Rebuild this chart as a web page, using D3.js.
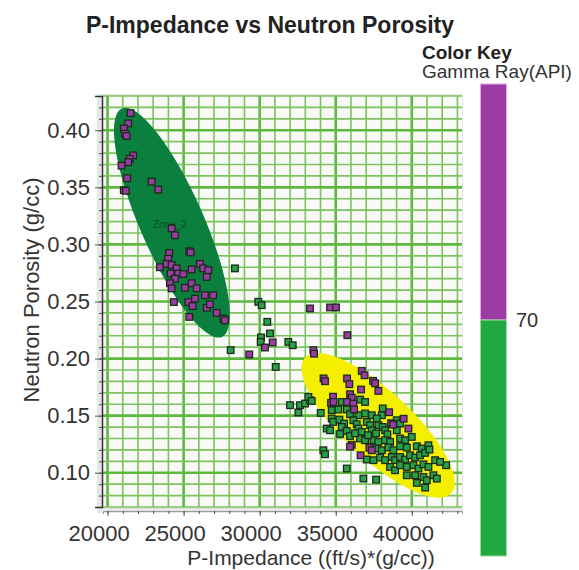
<!DOCTYPE html>
<html>
<head>
<meta charset="utf-8">
<script src="https://cdn.jsdelivr.net/npm/d3@7"></script>
<style>
  body { margin: 0; background: #fff; }
  text { font-family: "Liberation Sans", Arial, sans-serif; }
</style>
</head>
<body>
<div id="chart"></div>
<script>
// Gamma Ray above the 70 API cut (purple)  [P-Impedance, Neutron Porosity]
var highGR = [
  [21510,0.415],[21355,0.406],[21070,0.4015],[21140,0.397],[21250,0.395],[21685,0.378],
  [21465,0.375],[21355,0.372],[20920,0.369],[21290,0.358],[21070,0.3475],[21205,0.347],
  [22895,0.355],[23330,0.348],[24210,0.314],[24430,0.308],[25370,0.294],[25460,0.293],
  [24055,0.2925],[23985,0.2875],[23880,0.283],[23440,0.280],[24210,0.282],[24540,0.279],
  [24145,0.2745],[24645,0.2745],[24975,0.274],[24430,0.270],[25525,0.278],[26070,0.283],
  [26290,0.279],[26620,0.2775],[26515,0.2715],[24100,0.266],[24210,0.2615],[25085,0.262],
  [25525,0.266],[25855,0.2615],[26400,0.2555],[26945,0.2555],[24360,0.2495],[25305,0.2495],
  [25745,0.2525],[25590,0.246],[26515,0.2445],[26730,0.2475],[27170,0.240],[27605,0.235],
  [25370,0.2365],[27715,0.2335],
  [33310,0.2439],[34625,0.2448],[35020,0.2448],[35763,0.2205],[30349,0.2097],[30855,0.2141],
  [29316,0.2036],[33527,0.2074],[33573,0.2043],
  [36711,0.1892],[36895,0.1854],[34198,0.1826],[34296,0.1802],[35744,0.1826],[35895,0.1776],
  [37454,0.1805],[37586,0.1784],[36665,0.1729],[37803,0.1717],[34823,0.1666],[35941,0.1688],
  [36053,0.1657],[34691,0.1612],[34856,0.1620],[35744,0.1620],[36158,0.1606],[38507,0.153],
  [38639,0.1434],[38770,0.1421],[39461,0.1473],[39777,0.1387],[36053,0.1245],[35941,0.1228],
  [37211,0.1219],[37369,0.1197],[36632,0.1153],[36204,0.1554]
];

// Gamma Ray below the 70 API cut (green)
var lowGR = [
  [28375,0.279],[29908,0.2497],[30132,0.2468],[30500,0.2322],[30678,0.222],[30086,0.2185],
  [30066,0.2146],[31882,0.2146],[32171,0.2117],[28092,0.2074],[31053,0.1927],
  [31993,0.1592],[32540,0.1528],[32652,0.1592],[32981,0.1606],[33310,0.1635],[33198,0.1664],
  [33421,0.1629],[34013,0.1524],[34184,0.1197],[34296,0.1162],[35724,0.1037],[36816,0.0949],
  [37652,0.094],[40876,0.087],[40330,0.0911],[42257,0.1066],
  [35395,0.162],[36599,0.1641],[36928,0.162],[34737,0.1548],[35171,0.1554],[35724,0.1554],
  [35941,0.1513],[36487,0.1504],[36928,0.1519],[37369,0.1504],[38092,0.1563],[38027,0.1504],
  [37698,0.1475],[34737,0.1475],[34842,0.1445],[35237,0.1466],[35546,0.1431],[36158,0.146],
  [36382,0.1425],[37040,0.1445],[37257,0.1416],[37803,0.1416],[38092,0.1401],[39013,0.146],
  [39231,0.1431],[34408,0.1387],[34625,0.1372],[35395,0.1401],[35724,0.1366],[36487,0.1387],
  [36711,0.1358],[37369,0.1372],[37652,0.1344],[38244,0.1372],[38395,0.1337],[39013,0.1372],
  [36599,0.13],[36928,0.1285],[37474,0.1285],[37803,0.127],[38244,0.1285],[38573,0.127],
  [39231,0.13],[39560,0.1285],[40000,0.1314],[37698,0.1212],[38027,0.1197],[38461,0.1221],
  [38790,0.1197],[39231,0.1232],[39672,0.1221],[40330,0.1232],[40658,0.1212],[41092,0.1241],
  [37040,0.1116],[37474,0.111],[37915,0.1133],[38244,0.111],[38685,0.1138],[38902,0.111],
  [39231,0.1138],[39560,0.1116],[39889,0.1153],[40218,0.1133],[40547,0.1153],[40876,0.1174],
  [41158,0.1203],[38573,0.1051],[38902,0.1022],[39231,0.1066],[39672,0.1051],[40106,0.1066],
  [40435,0.1037],[40764,0.1074],[41092,0.1051],[41533,0.111],[41862,0.1095],[39672,0.0978],
  [40218,0.0978],[40764,0.0963],[40987,0.0934],[41421,0.0978],[41645,0.0949],
  [35290,0.134],[35941,0.1322],[36270,0.1346],[37125,0.1329]
];

// zones: ends of the long axis (data units) and short/long axis ratio
var zoneNames = ["Zone_2", "Zone_1"];
var zoneTips = [
  [[20940, 0.419], [27520, 0.219]],
  [[32980, 0.201], [42590, 0.082]]
];
var zoneRatio = [0.256, 0.34];
var zoneLabelAt = [22980, 0.314];

var xMajor = [20000, 25000, 30000, 35000, 40000];
var yMajor = [0.10, 0.15, 0.20, 0.25, 0.30, 0.35, 0.40];
var grCut = 70;
var grRange = [40, 100];

var width = 579, height = 570;
var zoneFill = ["#0b7f3d", "#f4ee00"];
var highColor = "#9c3ba3", lowColor = "#27a046";

var svg = d3.select("#chart").append("svg")
    .attr("width", width)
    .attr("height", height);

var x = d3.scaleLinear().domain([19700, 43300]).range([103, 462]);
var y = d3.scaleLinear().domain([0.07, 0.43]).range([507, 96]);

// title
svg.append("text")
    .attr("x", 270).attr("y", 33)
    .attr("text-anchor", "middle")
    .attr("font-size", 23).attr("font-weight", "bold")
    .attr("fill", "#222")
    .text("P-Impedance vs Neutron Porosity");

// frame + plot background
svg.append("rect")
    .attr("x", 97).attr("y", 94)
    .attr("width", 366).attr("height", 419)
    .attr("fill", "#e6e6e6");
svg.append("rect")
    .attr("x", x.range()[0]).attr("y", y.range()[1])
    .attr("width", x.range()[1] - x.range()[0])
    .attr("height", y.range()[0] - y.range()[1])
    .attr("fill", "#f9f9f7");

// grid
var grid = svg.append("g").attr("class", "grid");
var xMinor = d3.range(20000, 43001, 1000);
var yMinor = d3.range(7, 44).map(function(d) { return d / 100; });

grid.selectAll(".vx").data(xMinor).enter().append("line")
    .attr("x1", function(d) { return x(d); }).attr("x2", function(d) { return x(d); })
    .attr("y1", y.range()[1]).attr("y2", y.range()[0])
    .attr("stroke", function(d) { return d % 5000 === 0 ? "#5db83e" : "#7cc25e"; })
    .attr("stroke-width", function(d) { return d % 5000 === 0 ? 2.6 : 1.6; });

grid.selectAll(".hy").data(yMinor).enter().append("line")
    .attr("y1", function(d) { return y(d); }).attr("y2", function(d) { return y(d); })
    .attr("x1", x.range()[0]).attr("x2", x.range()[1])
    .attr("stroke", function(d) { return Math.round(d * 100) % 5 === 0 ? "#5db83e" : "#7cc25e"; })
    .attr("stroke-width", function(d) { return Math.round(d * 100) % 5 === 0 ? 2.6 : 1.6; });

// zones
var zones = svg.append("g").attr("class", "zones");
zoneTips.forEach(function(t, i) {
  var p1 = [x(t[0][0]), y(t[0][1])], p2 = [x(t[1][0]), y(t[1][1])];
  var cx = (p1[0] + p2[0]) / 2, cy = (p1[1] + p2[1]) / 2;
  var rx = Math.hypot(p2[0] - p1[0], p2[1] - p1[1]) / 2;
  var ang = Math.atan2(p2[1] - p1[1], p2[0] - p1[0]) * 180 / Math.PI;
  zones.append("ellipse")
      .attr("cx", 0).attr("cy", 0)
      .attr("rx", rx).attr("ry", rx * zoneRatio[i])
      .attr("transform", "translate(" + cx + "," + cy + ") rotate(" + ang + ")")
      .attr("fill", zoneFill[i]);
});
svg.append("text")
    .attr("x", x(zoneLabelAt[0])).attr("y", y(zoneLabelAt[1]))
    .attr("font-size", 10).attr("fill", "#0a4f24")
    .text(zoneNames[0]);

// points
function drawPoints(data, fill, cls) {
  svg.append("g").attr("class", cls).selectAll("rect")
      .data(data).enter().append("rect")
      .attr("x", function(d) { return x(d[0]) - 3.3; })
      .attr("y", function(d) { return y(d[1]) - 3.3; })
      .attr("width", 6.6).attr("height", 6.6)
      .attr("fill", fill)
      .attr("stroke", "#1c2a1c")
      .attr("stroke-width", 1.3);
}
drawPoints(lowGR, lowColor, "low-gr");
drawPoints(highGR, highColor, "high-gr");

// y axis
var yAxisG = svg.append("g")
    .attr("transform", "translate(102,0)");
var yMinorG = yAxisG.append("g")
    .call(d3.axisLeft(y).tickValues(yMinor).tickSize(3).tickFormat(""));
yMinorG.select(".domain").remove();
yMinorG.selectAll("text").remove();
yAxisG.append("g").call(d3.axisLeft(y).tickValues(yMajor).tickSize(7).tickPadding(5)
    .tickFormat(d3.format(".2f")));
yAxisG.selectAll("line").attr("stroke", "#555");
yAxisG.selectAll(".domain").attr("stroke", "#333").attr("stroke-width", 1.5);
yAxisG.selectAll("text").attr("font-size", 22).attr("fill", "#333")
    .style("font-family", "Liberation Sans, Arial, sans-serif");

// x axis
var xAxisG = svg.append("g")
    .attr("transform", "translate(0,511)");
var xMinorG = xAxisG.append("g")
    .call(d3.axisBottom(x).tickValues(xMinor).tickSize(3).tickFormat(""));
xMinorG.select(".domain").attr("stroke", "#999");
xMinorG.selectAll("text").remove();
var xMajorG = xAxisG.append("g")
    .call(d3.axisBottom(x).tickValues(xMajor).tickSize(5).tickPadding(9)
    .tickFormat(d3.format("d")));
xMajorG.select(".domain").remove();
xMajorG.selectAll("text").attr("dx", -9);
xAxisG.selectAll("line").attr("stroke", "#555");
xAxisG.selectAll("text").attr("font-size", 22).attr("fill", "#333")
    .style("font-family", "Liberation Sans, Arial, sans-serif");

// axis titles
svg.append("text")
    .attr("x", 311).attr("y", 565)
    .attr("text-anchor", "middle")
    .attr("font-size", 21).attr("fill", "#333")
    .text("P-Impedance ((ft/s)*(g/cc))");
svg.append("text")
    .attr("transform", "translate(39,290) rotate(-90)")
    .attr("text-anchor", "middle")
    .attr("font-size", 22).attr("fill", "#333")
    .text("Neutron Porosity (g/cc)");

// color key
var gr = d3.scaleLinear().domain(grRange).range([556, 84]);
svg.append("text")
    .attr("x", 422).attr("y", 59)
    .attr("font-size", 19).attr("font-weight", "bold").attr("fill", "#222")
    .text("Color Key");
svg.append("text")
    .attr("x", 422).attr("y", 78)
    .attr("font-size", 19).attr("fill", "#333")
    .text("Gamma Ray(API)");
svg.append("rect")
    .attr("x", 480.5).attr("y", gr(grRange[1]))
    .attr("width", 26).attr("height", gr(grCut) - gr(grRange[1]))
    .attr("fill", highColor).attr("stroke", "#e6a8e6").attr("stroke-width", 1);
svg.append("rect")
    .attr("x", 480.5).attr("y", gr(grCut))
    .attr("width", 26).attr("height", gr(grRange[0]) - gr(grCut))
    .attr("fill", "#22a840").attr("stroke", "#9fd69f").attr("stroke-width", 1);
svg.append("text")
    .attr("x", 516).attr("y", gr(grCut) + 7)
    .attr("font-size", 20).attr("fill", "#333")
    .text(grCut);
</script>
</body>
</html>
